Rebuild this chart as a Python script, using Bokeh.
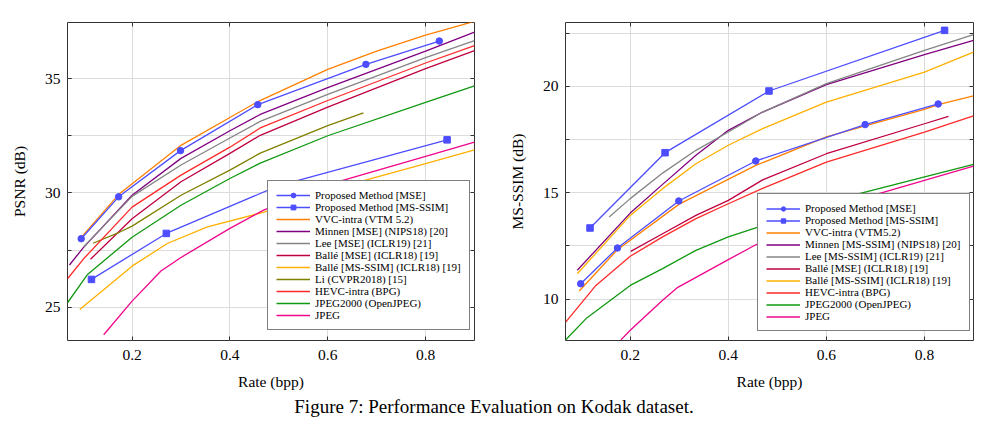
from bokeh.plotting import figure
from bokeh.models import Legend, LegendItem, LinearAxis, FixedTicker, Range1d, Div
from bokeh.layouts import row, column
from bokeh.embed import file_html
from bokeh.resources import INLINE

FONT = "Liberation Serif"

# ---------------- PSNR (left) data ----------------
psnr_prop_mse_x = [0.096, 0.1725, 0.299, 0.457, 0.678, 0.828]
psnr_prop_mse_y = [28.0, 29.83, 31.85, 33.86, 35.62, 36.64]
psnr_prop_msssim_x = [0.117, 0.27, 0.5, 0.844]
psnr_prop_msssim_y = [26.22, 28.23, 30.32, 32.32]
psnr_vvc_x = [0.096, 0.173, 0.3, 0.4, 0.456, 0.6, 0.7, 0.8, 0.9]
psnr_vvc_y = [28.06, 29.94, 32.08, 33.3, 33.98, 35.4, 36.2, 36.9, 37.5]
psnr_minnen_x = [0.072, 0.1, 0.2, 0.3, 0.4, 0.462, 0.6, 0.8, 0.9]
psnr_minnen_y = [26.85, 27.6, 29.9, 31.51, 32.72, 33.43, 34.6, 36.2, 37.03]
psnr_lee_x = [0.101, 0.2, 0.3, 0.4, 0.462, 0.6, 0.8, 0.9]
psnr_lee_y = [27.65, 29.85, 31.22, 32.4, 33.13, 34.31, 35.91, 36.66]
psnr_balle_mse_x = [0.115, 0.2, 0.3, 0.4, 0.462, 0.6, 0.8, 0.9]
psnr_balle_mse_y = [27.1, 28.87, 30.49, 31.73, 32.52, 33.75, 35.43, 36.22]
psnr_balle_msssim_x = [0.093, 0.2, 0.272, 0.354, 0.47, 0.666, 0.8, 0.9]
psnr_balle_msssim_y = [24.9, 26.8, 27.79, 28.52, 29.16, 30.49, 31.28, 31.88]
psnr_li_x = [0.12, 0.174, 0.2, 0.3, 0.4, 0.462, 0.6, 0.673]
psnr_li_y = [27.8, 28.28, 28.55, 29.9, 31.0, 31.74, 32.94, 33.5]
psnr_hevc_x = [0.068, 0.1, 0.2, 0.3, 0.4, 0.462, 0.6, 0.8, 0.9]
psnr_hevc_y = [26.25, 27.1, 29.38, 30.78, 32.0, 32.84, 34.04, 35.68, 36.44]
psnr_j2k_x = [0.068, 0.109, 0.2, 0.3, 0.4, 0.462, 0.6, 0.8, 0.9]
psnr_j2k_y = [25.2, 26.44, 28.06, 29.46, 30.63, 31.3, 32.5, 33.96, 34.68]
psnr_jpeg_x = [0.142, 0.2, 0.259, 0.3, 0.4, 0.47, 0.622, 0.8, 0.9]
psnr_jpeg_y = [23.8, 25.27, 26.59, 27.18, 28.45, 29.26, 30.49, 31.6, 32.22]

# ---------------- MS-SSIM (right) data ----------------
ms_prop_mse_x = [0.099, 0.174, 0.299, 0.456, 0.679, 0.828]
ms_prop_mse_y = [10.72, 12.4, 14.61, 16.49, 18.2, 19.17]
ms_prop_msssim_x = [0.118, 0.271, 0.483, 0.841]
ms_prop_msssim_y = [13.34, 16.88, 19.78, 22.63]
ms_vvc_x = [0.096, 0.174, 0.299, 0.456, 0.6, 0.679, 0.8, 0.828, 0.9]
ms_vvc_y = [10.38, 12.32, 14.45, 16.28, 17.62, 18.14, 18.92, 19.14, 19.55]
ms_minnen_x = [0.092, 0.2, 0.266, 0.334, 0.4, 0.47, 0.6, 0.8, 0.9]
ms_minnen_y = [11.35, 14.04, 15.39, 16.76, 17.93, 18.79, 20.08, 21.49, 22.16]
ms_lee_x = [0.157, 0.2, 0.266, 0.334, 0.4, 0.47, 0.6, 0.8, 0.9]
ms_lee_y = [13.86, 14.72, 15.92, 16.99, 17.85, 18.79, 20.13, 21.69, 22.43]
ms_balle_mse_x = [0.201, 0.266, 0.334, 0.4, 0.47, 0.6, 0.8, 0.849]
ms_balle_mse_y = [12.24, 13.07, 13.93, 14.64, 15.6, 16.83, 18.24, 18.59]
ms_balle_msssim_x = [0.092, 0.2, 0.266, 0.334, 0.4, 0.47, 0.6, 0.8, 0.9]
ms_balle_msssim_y = [11.19, 13.93, 15.19, 16.36, 17.23, 18.01, 19.26, 20.67, 21.61]
ms_hevc_x = [0.068, 0.13, 0.2, 0.266, 0.334, 0.4, 0.47, 0.6, 0.8, 0.9]
ms_hevc_y = [8.9, 10.64, 12.01, 12.92, 13.78, 14.48, 15.2, 16.44, 17.85, 18.61]
ms_j2k_x = [0.068, 0.11, 0.2, 0.266, 0.334, 0.4, 0.456, 0.667, 0.9]
ms_j2k_y = [8.07, 9.08, 10.64, 11.43, 12.29, 12.92, 13.35, 14.95, 16.33]
ms_jpeg_x = [0.181, 0.2, 0.266, 0.297, 0.4, 0.456, 0.707, 0.9]
ms_jpeg_y = [8.08, 8.53, 9.94, 10.55, 11.85, 12.55, 14.95, 16.25]

x_ticks = [0.2, 0.4, 0.6, 0.8]
psnr_ticks = [25, 30, 35]
psnr_minor = [22.5, 25, 27.5, 30, 32.5, 35, 37.5]
ms_ticks = [10, 15, 20]
ms_minor = [7.5, 10, 12.5, 15, 17.5, 20, 22.5]

BLUE = "#4d4dff"
ORANGE = "#ff8000"
VIOLET = "#800080"
GRAY = "#858585"
CRIMSON = "#bf0040"
AMBER = "#ffb000"
OLIVE = "#808000"
RED = "#ff2a2a"
GREEN = "#119911"
MAGENTA = "#f0058c"
GRID = "#dcdcdc"
DARK = "#333333"


def make_fig(width, bleft, bright, yr, yticks, yminor, ylabel):
    p = figure(width=width, height=395, x_range=Range1d(0.068, 0.9), y_range=Range1d(*yr),
               output_backend="svg", toolbar_location=None, tools="",
               min_border_left=bleft, min_border_right=bright,
               min_border_top=22, min_border_bottom=55)
    p.outline_line_color = DARK
    p.outline_line_width = 1
    xt = FixedTicker(ticks=x_ticks, minor_ticks=[])
    yt = FixedTicker(ticks=yticks, minor_ticks=yminor)
    p.xaxis.ticker = xt
    p.yaxis.ticker = yt
    p.xgrid.ticker = xt
    p.ygrid.ticker = yt
    p.xgrid.grid_line_color = GRID
    p.ygrid.grid_line_color = GRID
    p.ygrid.minor_grid_line_color = GRID
    for ax in (p.xaxis[0], p.yaxis[0]):
        ax.axis_line_color = None
        ax.major_tick_in = 4
        ax.major_tick_out = 0
        ax.minor_tick_in = 4
        ax.minor_tick_out = 0
        ax.major_tick_line_color = DARK
        ax.minor_tick_line_color = DARK
        ax.major_label_text_font = FONT
        ax.major_label_text_font_size = "15.5px"
        ax.major_label_text_color = "black"
        ax.axis_label_text_font = FONT
        ax.axis_label_text_font_size = "15.5px"
        ax.axis_label_text_font_style = "normal"
        ax.axis_label_text_color = "black"
    p.xaxis.axis_label = "Rate (bpp)"
    p.yaxis.axis_label = ylabel
    p.xaxis.major_label_standoff = 9
    p.xaxis.axis_label_standoff = 10
    p.yaxis.major_label_standoff = 7
    p.yaxis.axis_label_standoff = 14
    # mirrored ticks on top and right (minor ticks only -> no label texts)
    for loc, pos in (("above", x_ticks), ("right", yminor)):
        ax = LinearAxis(ticker=FixedTicker(ticks=[], minor_ticks=pos), axis_line_color=None,
                        major_tick_in=0, major_tick_out=0,
                        minor_tick_in=4, minor_tick_out=0,
                        minor_tick_line_color=DARK, major_label_standoff=0)
        p.add_layout(ax, loc)
    return p


def add_series(p, series):
    items = []
    for label, xs, ys, color, marker in series:
        r = [p.line(xs, ys, line_color=color, line_width=1.3)]
        if marker:
            r.append(p.scatter(xs, ys, marker=marker, size=6.5, fill_color=color, line_color=color))
        items.append(LegendItem(label=label, renderers=r))
    return items


def add_legend(p, items, loc, row_h):
    leg = Legend(items=items, location=loc, orientation="vertical",
                 border_line_color="black", border_line_width=1,
                 background_fill_color="white", background_fill_alpha=1.0,
                 label_text_font=FONT, label_text_font_size="11px",
                 label_text_color="black",
                 glyph_width=34, glyph_height=row_h, label_height=row_h,
                 label_standoff=5, spacing=0, padding=8, margin=0)
    p.add_layout(leg)


p1 = make_fig(490, 67, 16, (23.55, 37.45), psnr_ticks, psnr_minor, "PSNR (dB)")
left_series = [
    ("Proposed Method [MSE]", psnr_prop_mse_x, psnr_prop_mse_y, BLUE, "circle"),
    ("Proposed Method [MS-SSIM]", psnr_prop_msssim_x, psnr_prop_msssim_y, BLUE, "square"),
    ("VVC-intra (VTM 5.2)", psnr_vvc_x, psnr_vvc_y, ORANGE, None),
    ("Minnen [MSE] (NIPS18) [20]", psnr_minnen_x, psnr_minnen_y, VIOLET, None),
    ("Lee [MSE] (ICLR19) [21]", psnr_lee_x, psnr_lee_y, GRAY, None),
    ("Ballé [MSE] (ICLR18) [19]", psnr_balle_mse_x, psnr_balle_mse_y, CRIMSON, None),
    ("Ballé [MS-SSIM] (ICLR18) [19]", psnr_balle_msssim_x, psnr_balle_msssim_y, AMBER, None),
    ("Li (CVPR2018) [15]", psnr_li_x, psnr_li_y, OLIVE, None),
    ("HEVC-intra (BPG)", psnr_hevc_x, psnr_hevc_y, RED, None),
    ("JPEG2000 (OpenJPEG)", psnr_j2k_x, psnr_j2k_y, GREEN, None),
    ("JPEG", psnr_jpeg_x, psnr_jpeg_y, MAGENTA, None),
]
# draw proposed last so they sit on top
it1 = add_series(p1, left_series[2:])
it1 = add_series(p1, left_series[:2]) + it1
add_legend(p1, it1, (200, 10), 12)

p2 = make_fig(498, 75, 15, (8.05, 23.0), ms_ticks, ms_minor, "MS-SSIM (dB)")
right_series = [
    ("Proposed Method [MSE]", ms_prop_mse_x, ms_prop_mse_y, BLUE, "circle"),
    ("Proposed Method [MS-SSIM]", ms_prop_msssim_x, ms_prop_msssim_y, BLUE, "square"),
    ("VVC-intra (VTM5.2)", ms_vvc_x, ms_vvc_y, ORANGE, None),
    ("Minnen [MS-SSIM] (NIPS18) [20]", ms_minnen_x, ms_minnen_y, VIOLET, None),
    ("Lee [MS-SSIM] (ICLR19) [21]", ms_lee_x, ms_lee_y, GRAY, None),
    ("Ballé [MSE] (ICLR18) [19]", ms_balle_mse_x, ms_balle_mse_y, CRIMSON, None),
    ("Ballé [MS-SSIM] (ICLR18) [19]", ms_balle_msssim_x, ms_balle_msssim_y, AMBER, None),
    ("HEVC-intra (BPG)", ms_hevc_x, ms_hevc_y, RED, None),
    ("JPEG2000 (OpenJPEG)", ms_j2k_x, ms_j2k_y, GREEN, None),
    ("JPEG", ms_jpeg_x, ms_jpeg_y, MAGENTA, None),
]
it2 = add_series(p2, right_series[2:])
it2 = add_series(p2, right_series[:2]) + it2
add_legend(p2, it2, (192, 9), 11)

cap = Div(text="Figure 7: Performance Evaluation on Kodak dataset.", width=988, height=22,
          margin=(2, 0, 0, 0),
          styles={"font-family": FONT, "font-size": "19px", "text-align": "center",
                  "line-height": "19px", "color": "black", "width": "988px"})

layout = column(row(p1, p2, spacing=0), cap, spacing=0)
open("out.html", "w").write(file_html(layout, INLINE))
